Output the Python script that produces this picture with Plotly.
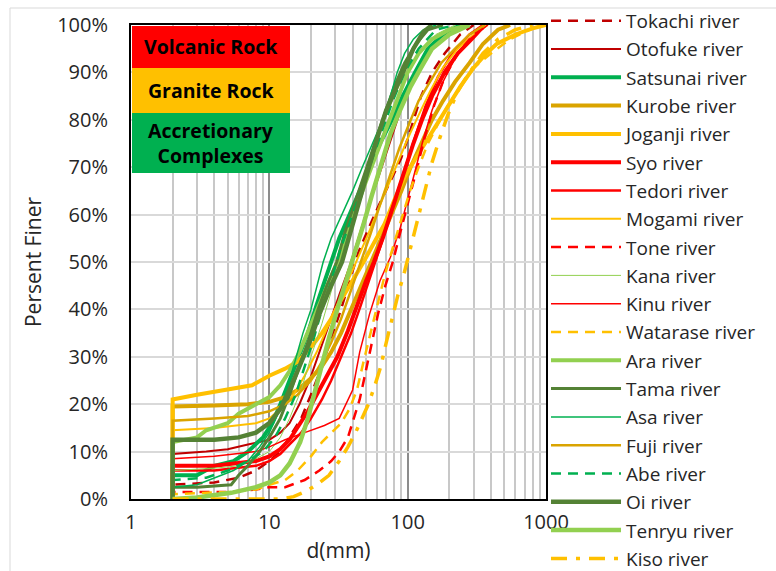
import plotly.graph_objects as go

# ---------------- data (d in mm, percent finer) ----------------
tokachi_d = [2, 2, 4, 6, 8, 10, 12, 14, 17, 20, 24, 28, 33, 38, 44, 52, 62, 75, 90, 100, 110, 125, 150, 185, 240, 300]
tokachi_p = [0, 3, 3.5, 4.5, 6, 8, 10, 13, 17, 22, 28, 34, 40, 46, 52, 57, 62, 67, 72, 76, 80, 85, 90, 94, 98, 100]

otofuke_d = [2, 2, 3.5, 5, 7, 10, 12, 14, 16.5, 19.5, 23, 27, 32, 38, 44, 51, 60, 70, 82, 96, 115, 140, 180, 250]
otofuke_p = [0, 9.5, 10, 10.5, 11.5, 12.5, 14, 16, 20, 25, 31, 37, 43, 49, 55, 61, 67, 73, 79, 85, 90, 94, 97, 100]

satsunai_d = [2, 2, 3, 4, 5.5, 7, 9, 10.5, 12, 14, 16, 19, 22, 25, 28, 32, 38, 45, 53, 63, 77, 92, 113, 140, 180, 240]
satsunai_p = [0, 5, 5, 7, 8, 10, 13, 16, 20, 25, 29, 35, 41, 46, 50, 55, 60, 65, 70, 75, 80, 85, 90, 95, 98, 100]

kurobe_d = [2, 2, 4, 7, 10, 13, 16, 20, 24, 28, 33, 39, 46, 55, 65, 77, 90, 105, 125, 150, 180, 220, 280, 350, 450, 550]
kurobe_p = [0, 19.5, 19.7, 20, 20.5, 21.5, 23, 25.5, 28, 31, 35, 40, 45, 50, 55, 60, 65, 70, 75, 80, 84, 88, 92, 96, 99, 100]

joganji_d = [2, 2, 3, 5, 7.5, 10, 13, 16, 20, 24, 28, 33, 40, 48, 57, 68, 80, 95, 115, 140, 170, 210, 240, 300, 370, 440, 600, 800, 1000]
joganji_p = [0, 21, 22, 23, 24, 26, 27.5, 29, 32, 35, 38, 42, 46, 50, 54, 58, 63, 68, 72, 76, 80, 84, 87, 91, 94, 96, 98, 99.3, 100]

syo_d = [2, 2, 4, 6, 8, 10, 12, 14, 16, 19, 22, 26, 31, 37, 43, 50, 57, 66, 75, 85, 97, 110, 127, 150, 185, 230, 290, 360]
syo_p = [0, 7, 7, 7.5, 8, 9, 10.5, 12.5, 15, 18.5, 22, 26, 30, 35.5, 41, 46, 50, 55, 60, 65, 70, 75, 80, 85, 90, 94, 97, 100]

tedori_d = [2, 2, 4, 6, 8, 10, 12, 14, 17, 20, 24, 28, 33, 39, 46, 54, 63, 73, 85, 98, 115, 135, 165, 210, 280, 350]
tedori_p = [0, 6, 6, 6.5, 7, 8, 9.5, 11.5, 14, 17, 21, 25, 30, 35, 41, 47, 53, 59, 65, 71, 77, 83, 89, 94, 98, 100]

mogami_d = [2, 2, 4, 6, 8, 10, 12, 15, 18, 22, 26, 31, 37, 44, 52, 61, 72, 85, 100, 120, 145, 180, 230, 300, 380]
mogami_p = [0, 14.5, 15, 15.5, 16, 17, 19, 22, 26, 31, 36, 41, 46, 51, 56, 61, 66, 71, 76, 81, 86, 91, 95, 98, 100]

tone_d = [2, 2, 5, 8, 10, 13, 18, 23, 28, 32, 37, 41, 45, 49, 54, 61, 69, 78, 88, 100, 115, 132, 155, 185, 230, 300, 380]
tone_p = [0, 1.5, 1.5, 2, 2.5, 2.5, 4, 6, 8, 10, 13, 17, 21, 26, 32, 39, 45, 50, 56, 62, 69, 76, 83, 89, 94, 98, 100]

kana_d = [2, 2, 4, 6, 8, 10, 12, 14, 17, 20, 24, 28, 33, 39, 46, 55, 66, 80, 97, 120, 160, 220]
kana_p = [0, 6, 6.5, 7, 8.5, 10, 13, 17, 23, 30, 37, 44, 51, 58, 65, 72, 79, 85, 90, 94, 98, 100]

kinu_d = [2, 2, 4, 6, 8, 10, 13, 18, 25, 32, 36, 40, 45, 53, 63, 75, 88, 100, 115, 130, 150, 180, 220, 280, 380]
kinu_p = [0, 8.5, 9, 9.5, 10, 11, 12.5, 14, 15.5, 17, 20, 23, 31, 39, 46, 51, 57, 63, 70, 76, 82, 88, 93, 97, 100]

watarase_d = [2, 2, 5, 8, 10, 13, 16, 20, 24, 28, 33, 38, 43, 48, 54, 60, 68, 78, 90, 104, 120, 140, 165, 195, 240, 300, 400, 550, 800, 1000]
watarase_p = [0, 1, 1.5, 2, 3, 4, 6, 9, 12, 14, 16, 19, 23, 29, 35, 41, 47, 53, 59, 65, 70, 75, 79, 83, 87, 91, 94, 97, 99.3, 100]

ara_d = [2, 2, 3, 3.5, 5, 6, 8, 10, 12, 14, 16.5, 19.5, 23, 27, 31, 36, 42, 50, 60, 71, 85, 100, 120, 150, 200, 280]
ara_p = [0, 12, 13, 14.5, 16, 18, 20, 21.5, 24, 27, 31, 36, 41, 46, 50, 55, 61, 67, 73, 79, 85, 90, 94, 97, 99, 100]

tama_d = [2, 2, 3, 5.3, 6, 7, 8.5, 10, 12, 14, 16.5, 19.5, 22.5, 26, 30.7, 35, 41, 48, 56, 66, 80, 95, 115, 140, 180]
tama_p = [0, 2.5, 2.5, 3, 5, 7, 10, 13, 17, 22, 28, 34, 40, 45, 50, 56, 62, 68, 74, 80, 87, 92, 96, 99, 100]

asa_d = [2, 2, 3, 4, 5.5, 7, 8.5, 10, 12, 14, 16, 17.5, 20, 22, 24.5, 28, 33.5, 40, 47, 56, 66, 75, 84, 95, 110, 130, 160]
asa_p = [0, 2.5, 3, 4.5, 6, 8, 11, 14, 19, 25, 31, 35, 40, 45, 50, 55, 60, 65, 70, 75, 80, 85, 90, 94, 97, 99, 100]

fuji_d = [2, 2, 4, 7, 10, 13, 16, 20, 24, 28, 33, 39, 46, 54, 63, 74, 87, 102, 120, 145, 175, 220, 280, 360]
fuji_p = [0, 16.5, 17, 17.5, 18.5, 20, 22, 25, 29, 33, 38, 44, 50, 56, 62, 68, 74, 79, 84, 88, 92, 95, 98, 100]

abe_d = [2, 2, 3.5, 5, 7, 9, 11, 13, 15.5, 18, 21, 24, 28, 32, 38, 45, 53, 64, 78, 95, 120, 160, 220]
abe_p = [0, 4, 4.5, 6, 8, 10, 13, 17, 22, 28, 34, 40, 46, 52, 58, 64, 70, 77, 84, 90, 95, 99, 100]

oi_d = [2, 2, 4, 6, 8, 10, 12, 14, 16.5, 19.5, 23, 27, 33.5, 39, 45, 52, 60, 70, 80, 92, 110, 130, 150]
oi_p = [0, 12.5, 12.5, 13, 14, 16, 19, 23, 28, 33, 39, 44, 50, 57, 63, 70, 76, 82, 86, 90, 95, 98.5, 100]

tenryu_d = [2, 3, 5.3, 8, 10, 12, 14, 16.7, 19, 21, 24, 27, 31, 36, 42, 48, 55, 63, 75, 88, 105, 125, 150, 200, 280]
tenryu_p = [0, 0.3, 1.3, 2.5, 3.5, 5, 7.5, 12, 17, 22, 28, 34, 40, 46, 52, 58, 64, 70, 77, 82, 87, 91, 95, 98, 100]

kiso_d = [2, 12, 15, 18, 22, 27, 32, 37, 42, 47, 52, 58, 64, 70, 77, 85, 95, 105, 118, 132, 150, 170, 195, 230, 280, 350, 450, 600, 800]
kiso_p = [0, 0, 0.5, 1.5, 3, 5, 8, 11, 14, 17, 20, 24, 28, 33, 38, 43, 48, 53, 59, 65, 71, 76, 81, 86, 90, 94, 97, 99, 100]

x_tick_vals = [1, 10, 100, 1000]
x_tick_text = ["1", "10", "100", "1000"]
rock_labels = ["Volcanic Rock", "Granite Rock", "Accretionary<br>Complexes"]

# ---------------- styles ----------------
DR, R, G, LG, DG, O, GD = "#C00000", "#FF0000", "#00B050", "#92D050", "#548235", "#FFC000", "#DAA400"
DASH = "10px,7px"
series = [
    ("Tokachi river", tokachi_d, tokachi_p, DR, 2.5, DASH),
    ("Otofuke river", otofuke_d, otofuke_p, DR, 2, "solid"),
    ("Satsunai river", satsunai_d, satsunai_p, G, 4, "solid"),
    ("Kurobe river", kurobe_d, kurobe_p, GD, 4, "solid"),
    ("Joganji river", joganji_d, joganji_p, O, 4, "solid"),
    ("Syo river", syo_d, syo_p, R, 4, "solid"),
    ("Tedori river", tedori_d, tedori_p, R, 2.5, "solid"),
    ("Mogami river", mogami_d, mogami_p, O, 2, "solid"),
    ("Tone river", tone_d, tone_p, R, 2.5, DASH),
    ("Kana river", kana_d, kana_p, LG, 1, "solid"),
    ("Kinu river", kinu_d, kinu_p, R, 1.5, "solid"),
    ("Watarase river", watarase_d, watarase_p, O, 2.5, DASH),
    ("Ara river", ara_d, ara_p, LG, 4, "solid"),
    ("Tama river", tama_d, tama_p, DG, 3, "solid"),
    ("Asa river", asa_d, asa_p, G, 1.5, "solid"),
    ("Fuji river", fuji_d, fuji_p, GD, 2.5, "solid"),
    ("Abe river", abe_d, abe_p, G, 2.5, DASH),
    ("Oi river", oi_d, oi_p, DG, 4.5, "solid"),
    ("Tenryu river", tenryu_d, tenryu_p, LG, 4.5, "solid"),
    ("Kiso river", kiso_d, kiso_p, O, 3.5, "16px,9px,4px,9px"),
]

fig = go.Figure()
for i, (name, d, p, col, w, dash) in enumerate(series):
    fig.add_trace(go.Scatter(x=d, y=p, mode="lines", name=name, legendgroup=f"g{i}",
                             legend="legend" if i < 10 else "legend2",
                             line=dict(color=col, width=w, dash=dash)))

FONT = "Open Sans, Calibri, sans-serif"
TXT = "#262626"
L, Rm, T, B = 131, 230, 25, 72
W, H = 776, 571
pw, ph = W - L - Rm, H - T - B

def px(xp):
    return (xp - L) / pw

def py(yp):
    return (H - B - yp) / ph

minor_vals = [m * 10 ** e for e in range(0, 3) for m in range(2, 10)]

fig.update_xaxes(type="log", range=[0, 3], tickmode="array", tickvals=x_tick_vals, ticktext=x_tick_text,
                 showgrid=True, gridcolor="#8C8C8C", gridwidth=1.5,
                 minor=dict(tickmode="array", tickvals=minor_vals, showgrid=True, gridcolor="#C8C8C8", gridwidth=1.5, ticks=""),
                 showline=True, linecolor="black", linewidth=2, mirror=True, ticks="",
                 tickfont=dict(family=FONT, size=20, color=TXT), ticklabelstandoff=4,
                 title=dict(text="d(mm)", font=dict(family=FONT, size=21, color=TXT), standoff=9),
                 zeroline=False)
fig.update_yaxes(range=[0, 100], dtick=10, ticksuffix="%", showgrid=True, gridcolor="#D9D9D9", gridwidth=1.5,
                 showline=True, linecolor="black", linewidth=2, mirror=True, ticks="",
                 tickfont=dict(family=FONT, size=20, color=TXT), ticklabelstandoff=17,
                 title=dict(text="Persent Finer", font=dict(family=FONT, size=21, color=TXT), standoff=10),
                 zeroline=False)

box_fills = ["#FF0000", "#FFC000", "#00B050"]
box_edges = [25, 68, 113, 173]
shapes = [dict(type="rect", xref="paper", yref="paper", x0=px(10), x1=px(800), y0=py(620), y1=py(8),
               line=dict(color="#D9D9D9", width=1), fillcolor="rgba(0,0,0,0)", layer="below")]
annotations = []
for k in range(3):
    shapes.append(dict(type="rect", xref="paper", yref="paper", x0=px(132), x1=px(290),
                       y0=py(box_edges[k + 1]), y1=py(box_edges[k] + (1 if k == 0 else 0)),
                       line=dict(width=0), fillcolor=box_fills[k], layer="above"))
    annotations.append(dict(xref="paper", yref="paper", x=px(211), y=py((box_edges[k] + box_edges[k + 1]) / 2),
                            xanchor="center", yanchor="middle",
                            text=f"<b>{rock_labels[k]}</b>", showarrow=False,
                            font=dict(family=FONT, size=19.5, color="black"), align="center"))

leg_common = dict(xanchor="left", yanchor="middle", itemwidth=70,
                  font=dict(family=FONT, size=19, color=TXT), tracegroupgap=0.6,
                  bgcolor="rgba(0,0,0,0)", borderwidth=0, traceorder="grouped")
STEP = 28.3
FIRST = 21
fig.update_layout(
    width=W, height=H, autosize=False,
    margin=dict(l=L, r=Rm, t=T, b=B, autoexpand=False),
    paper_bgcolor="white", plot_bgcolor="white",
    shapes=shapes, annotations=annotations,
    legend=dict(x=px(546), y=py(FIRST + 4.5 * STEP), **leg_common),
    legend2=dict(x=px(546), y=py(FIRST + 14.5 * STEP), **leg_common),
    showlegend=True,
)

fig.write_html("out.html")
